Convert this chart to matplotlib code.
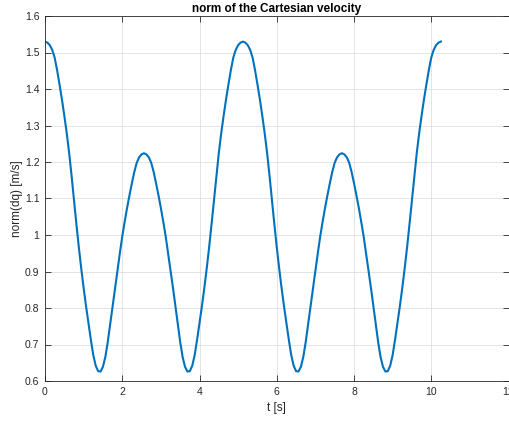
import numpy as np
import matplotlib
matplotlib.use('Agg')
import matplotlib.pyplot as plt
from matplotlib.ticker import FormatStrFormatter

dq_norm = [
    1.530, 1.527, 1.520, 1.507, 1.486, 1.452, 1.413, 1.372, 1.327, 1.279,
    1.225, 1.163, 1.096, 1.030, 0.967, 0.909, 0.855, 0.805, 0.758, 0.713,
    0.671, 0.642, 0.627, 0.626, 0.639, 0.666, 0.707, 0.756, 0.807, 0.856,
    0.903, 0.950, 0.996, 1.036, 1.074, 1.109, 1.142, 1.173, 1.198, 1.213,
    1.221, 1.224,
    1.221, 1.213, 1.198, 1.173, 1.142, 1.109, 1.074, 1.036, 0.996, 0.950,
    0.903, 0.856, 0.807, 0.756, 0.707, 0.666, 0.639, 0.626, 0.627, 0.642,
    0.671, 0.713, 0.758, 0.805, 0.855, 0.909, 0.967, 1.030, 1.096, 1.163,
    1.225, 1.279, 1.327, 1.372, 1.413, 1.452, 1.486, 1.507, 1.520, 1.527,
    1.530, 1.527, 1.520, 1.507, 1.486, 1.452, 1.413, 1.372, 1.327, 1.279,
    1.225, 1.163, 1.096, 1.030, 0.967, 0.909, 0.855, 0.805, 0.758, 0.713,
    0.671, 0.642, 0.627, 0.626, 0.639, 0.666, 0.707, 0.756, 0.807, 0.856,
    0.903, 0.950, 0.996, 1.036, 1.074, 1.109, 1.142, 1.173, 1.198, 1.213,
    1.221, 1.224,
    1.221, 1.213, 1.198, 1.173, 1.142, 1.109, 1.074, 1.036, 0.996, 0.950,
    0.903, 0.856, 0.807, 0.756, 0.707, 0.666, 0.639, 0.626, 0.627, 0.642,
    0.671, 0.713, 0.758, 0.805, 0.855, 0.909, 0.967, 1.030, 1.096, 1.163,
    1.225, 1.279, 1.327, 1.372, 1.413, 1.452, 1.486, 1.507, 1.520, 1.527,
    1.530,
]
t_end = 10.25
x_ticks = [0, 2, 4, 6, 8, 10, 12]
y_ticks = [0.6, 0.7, 0.8, 0.9, 1.0, 1.1, 1.2, 1.3, 1.4, 1.5, 1.6]

t = np.linspace(0, t_end, len(dq_norm))

plt.rcParams['font.family'] = ['Liberation Sans', 'DejaVu Sans']
fig = plt.figure(figsize=(5.09, 4.21), dpi=100)
ax = fig.add_axes([45 / 509, 40 / 421, 463.5 / 509, 365 / 421])

ax.plot(t, dq_norm, color='#0072BD', linewidth=1.5)

ax.set_xlim(0, 12)
ax.set_ylim(0.6, 1.6)
ax.set_xticks(x_ticks)
ax.set_yticks(y_ticks)
ax.yaxis.set_major_formatter(FormatStrFormatter('%g'))
ax.grid(True, color='#dfdfdf', linewidth=0.6)
ax.set_axisbelow(True)
ax.tick_params(direction='in', length=4, width=0.6, colors='#262626',
               labelsize=7.5, top=True, right=True, pad=4)
for s in ax.spines.values():
    s.set_color('#262626')
    s.set_linewidth(0.6)

ax.set_title('norm of the Cartesian velocity', fontsize=8.5, fontweight='bold',
             color='black', pad=3)
ax.set_xlabel('t [s]', fontsize=8.5, color='#262626', labelpad=4)
ax.set_ylabel('norm(dq) [m/s]', fontsize=8.5, color='#262626', labelpad=1)

fig.savefig('out.png', dpi=100)
